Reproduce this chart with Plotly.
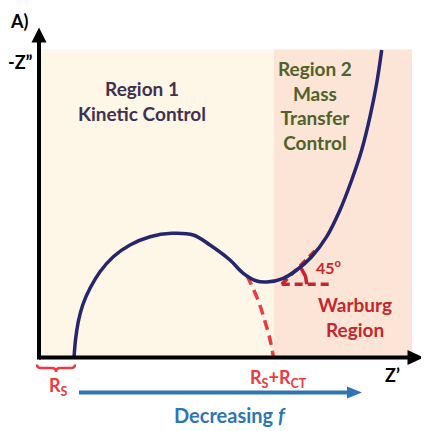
import numpy as np
import plotly.graph_objects as go

# Nyquist sketch, arbitrary impedance units
rs = 3.5
rct = 20.0

# measured curve, Z' and -Z''
curve_zr = [3.5, 3.67, 3.93, 4.37, 5.1, 6.1, 7.43, 9.1, 11.1, 13.27, 15.43, 17.1,
            19.1, 20.43, 21.77, 22.77, 24.43, 25.77, 27.27, 28.77, 30.1, 31.27,
            32.27, 33.1, 33.77, 34.27]
curve_zi = [0.0, 1.92, 3.58, 5.25, 6.92, 8.58, 10.08, 11.25, 12.08, 12.42, 12.25, 11.25,
            9.75, 8.42, 7.65, 7.55, 7.92, 8.75, 10.08, 12.08, 14.75, 17.75,
            20.75, 24.08, 27.42, 30.75]

# kinetic semicircle continued down to the real axis
semi_zr = [20.8, 21.9, 22.6, 23.1, 23.45]
semi_zi = [8.2, 5.75, 3.6, 1.8, 0.0]

# region extents
region_top = 30.8
region_right = 37.3
x_end = 38.5
y_end = 33.0

NAVY = "#26266E"
RED = "#EE3A3E"
DARK_RED = "#C3272D"
BLUE = "#2E75B6"
FONT = "Lato"

fig = go.Figure()

fig.add_trace(go.Scatter(
    x=semi_zr, y=semi_zi, mode="lines",
    line=dict(color=RED, width=3.5, dash="10px,6px", shape="spline"),
    hoverinfo="skip"))

# 45 degree angle mark
vx, vy = 24.27, 7.32
fig.add_trace(go.Scatter(
    x=[vx, vx + 4.9], y=[vy, vy], mode="lines",
    line=dict(color=DARK_RED, width=3.5, dash="8px,5px"), hoverinfo="skip"))
fig.add_trace(go.Scatter(
    x=[vx, vx + 3.4], y=[vy, vy + 3.4], mode="lines",
    line=dict(color=DARK_RED, width=3.5, dash="8px,5px"), hoverinfo="skip"))
ang = np.linspace(0, np.pi / 4, 12)
fig.add_trace(go.Scatter(
    x=vx + 2.5 * np.cos(ang), y=vy + 2.5 * np.sin(ang), mode="lines",
    line=dict(color=DARK_RED, width=3.5), hoverinfo="skip"))

fig.add_trace(go.Scatter(
    x=curve_zr, y=curve_zi, mode="lines",
    line=dict(color=NAVY, width=3.5, shape="spline", smoothing=1.0),
    hoverinfo="skip"))

shapes = [
    dict(type="rect", x0=0.1, x1=rs + rct, y0=0, y1=region_top,
         fillcolor="#FEF6E6", line=dict(width=0), layer="below"),
    dict(type="rect", x0=rs + rct, x1=region_right, y0=0, y1=region_top,
         fillcolor="#FCE4D6", line=dict(width=0), layer="below"),
    # axes
    dict(type="line", x0=0, x1=x_end - 1.2, y0=0, y1=0,
         line=dict(color="black", width=4)),
    dict(type="line", x0=0, x1=0, y0=-0.2, y1=y_end - 1.2,
         line=dict(color="black", width=4)),
    dict(type="path", path=f"M {x_end},0 L {x_end-1.65},0.75 L {x_end-1.65},-0.75 Z",
         fillcolor="black", line=dict(width=0)),
    dict(type="path", path=f"M 0,{y_end} L 0.75,{y_end-1.5} L -0.75,{y_end-1.5} Z",
         fillcolor="black", line=dict(width=0)),
    # frequency arrow
    dict(type="line", x0=4.0, x1=31.0, y0=-3.5, y1=-3.5,
         line=dict(color=BLUE, width=4)),
    dict(type="path", path="M 32.3,-3.5 L 30.8,-2.9 L 30.8,-4.1 Z",
         fillcolor=BLUE, line=dict(width=0)),
]

# brace under R_S
b0, b1, m = -0.2, rs + 0.1, (rs - 0.1) / 2
shapes.append(dict(
    type="path",
    path=(f"M {b0},-0.7 Q {b0},-1.05 {b0+0.4},-1.05 L {m-0.4},-1.05 "
          f"Q {m},-1.05 {m},-1.45 Q {m},-1.05 {m+0.4},-1.05 "
          f"L {b1-0.4},-1.05 Q {b1},-1.05 {b1},-0.7"),
    line=dict(color=RED, width=2.5)))

def note(x, y, text, color, size=19, yanchor="middle"):
    return dict(x=x, y=y, text=text, showarrow=False, xanchor="center",
                yanchor=yanchor, font=dict(family=FONT, size=size, color=color))

annotations = [
    note(-2.0, 34.95, "<b>A)</b>", "black", 18, yanchor="top"),
    note(-1.9, 29.6, "<b>-Z”</b>", "black", 18),
    note(35.3, -1.75, "<b>Z’</b>", "black", 18),
    note(10.3, 25.65, "<b>Region 1<br>Kinetic Control</b>", "#403151"),
    note(27.6, 25.25, "<b>Region 2<br>Mass<br>Transfer<br>Control</b>", "#4F6228"),
    note(28.95, 9.1, "<b>45<sup>o</sup></b>", DARK_RED, 16),
    note(31.6, 4.1, "<b>Warburg<br>Region</b>", DARK_RED),
    note(1.95, -2.85, "<b>R<sub>S</sub></b>", RED, 18),
    note(23.9, -2.1, "<b>R<sub>S</sub>+R<sub>CT</sub></b>", RED, 18),
    note(19.1, -5.75, "<b>Decreasing <i>f</i></b>", BLUE, 20),
]

# the page body adds an 8px margin, so the figure is 8px smaller
fig.update_layout(
    width=421, height=423,
    margin=dict(l=0, r=0, t=0, b=0),
    paper_bgcolor="white", plot_bgcolor="white",
    showlegend=False,
    shapes=shapes, annotations=annotations,
    xaxis=dict(range=[-3.1, 39.0], visible=False, fixedrange=True),
    yaxis=dict(range=[-7.35, 34.95], visible=False, fixedrange=True),
)

fig.write_html("out.html")
